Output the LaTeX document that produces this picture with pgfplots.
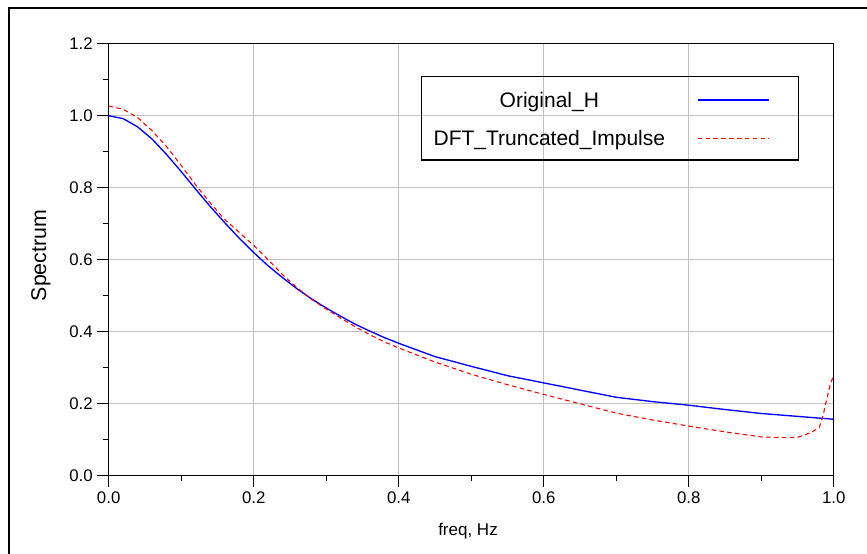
\documentclass[border=0pt]{standalone}
\usepackage{fontspec}
\setmainfont{Liberation Sans}
\usepackage{pgfplots}
\pgfplotsset{compat=1.18}
\definecolor{gridgray}{RGB}{192,192,192}
\definecolor{hblue}{RGB}{0,0,255}
\definecolor{dred}{RGB}{255,0,0}
\begin{document}
\begin{tikzpicture}
\path[use as bounding box] (-81.5pt,-58pt) rectangle (568.7pt,356.8pt);
\clip (-81.5pt,-58pt) rectangle (568.7pt,356.8pt);
\draw[line width=1.5pt] (-74.8pt,-80pt) rectangle (590pt,350.8pt);
\begin{axis}[
  at={(0pt,0pt)}, anchor=south west,
  scale only axis, width=543.75pt, height=324pt,
  xmin=0, xmax=1, ymin=0, ymax=1.2,
  xtick={0,0.2,0.4,0.6,0.8,1.0},
  ytick={0,0.2,0.4,0.6,0.8,1.0,1.2},
  minor tick num=1,
  xtick pos=bottom, ytick pos=left,
  tick align=outside,
  major tick length=8.5pt, minor tick length=4pt,
  every tick/.style={black, line width=0.9pt},
  axis line style={black, line width=1pt},
  grid=major,
  major grid style={gridgray, line width=0.9pt},
  /pgf/number format/assume math mode=true,
  xticklabel style={/pgf/number format/.cd, fixed, fixed zerofill, precision=1},
  yticklabel style={/pgf/number format/.cd, fixed, fixed zerofill, precision=1},
  tick label style={font=\fontsize{12.6}{14}\selectfont},
  every axis x label/.style={at={(axis description cs:0.4956,0)}, anchor=base, yshift=-44.5pt, font=\fontsize{12.75}{15}\selectfont},
  every axis y label/.style={at={(axis description cs:-0.0934,0.5097)}, rotate=90, anchor=center, font=\fontsize{16}{18}\selectfont},
  xlabel={freq, Hz},
  ylabel={Spectrum},
  legend plot pos=right,
  legend cell align=center,
  legend style={at={(rel axis cs:0.4303,0.9259)}, anchor=north west, draw=black, line width=1pt, fill=none,
    inner xsep=9.2pt, inner ysep=4.2pt, row sep=3.8pt, column sep=24pt,
    font=\fontsize{15.75}{18}\selectfont,
    nodes={inner sep=0pt, text height=18.9pt, text depth=6.3pt}},
]
\addplot[color=hblue, line width=1pt,
  legend image code/.code={\fill[hblue, draw=none] (0pt,-1.3pt) rectangle (53.25pt,-0.1pt); \pgfpathmoveto{\pgfqpoint{66.3pt}{0pt}}\pgfusepath{discard}}] coordinates {
(0,1.000) (0.02,0.992) (0.04,0.969) (0.06,0.935) (0.08,0.892) (0.10,0.845)
(0.12,0.796) (0.14,0.748) (0.16,0.703) (0.18,0.660) (0.20,0.620) (0.22,0.583)
(0.24,0.550) (0.26,0.519) (0.28,0.491) (0.30,0.466) (0.32,0.443) (0.34,0.421)
(0.36,0.402) (0.38,0.384) (0.40,0.368) (0.45,0.331) (0.50,0.304) (0.55,0.278)
(0.60,0.258) (0.65,0.238) (0.70,0.218) (0.75,0.206) (0.80,0.196) (0.85,0.184)
(0.90,0.173) (0.95,0.165) (1.00,0.157)
};
\addlegendentry{Original\_H}
\addplot[color=dred, line width=0.8pt, dash pattern=on 3.4pt off 2.5pt,
  legend image code/.code={\draw[draw=dred, line width=0.8pt, dash pattern=on 3.4pt off 2.5pt] (0pt,-0.7pt) -- (53.25pt,-0.7pt); \pgfpathmoveto{\pgfqpoint{66.3pt}{0pt}}\pgfusepath{discard}}] coordinates {
(0,1.027) (0.02,1.018) (0.04,0.995) (0.06,0.958) (0.08,0.914) (0.10,0.862)
(0.12,0.808) (0.14,0.758) (0.16,0.712) (0.18,0.676) (0.20,0.640) (0.22,0.600)
(0.24,0.558) (0.26,0.522) (0.28,0.490) (0.30,0.463) (0.32,0.438) (0.34,0.414)
(0.36,0.392) (0.38,0.372) (0.40,0.355) (0.45,0.316) (0.50,0.282) (0.55,0.253)
(0.60,0.226) (0.65,0.200) (0.70,0.174) (0.75,0.155) (0.80,0.138) (0.85,0.122)
(0.90,0.108) (0.93,0.106) (0.95,0.107) (0.96,0.113) (0.97,0.122) (0.98,0.134)
(0.985,0.165) (0.99,0.210) (0.995,0.252) (1.00,0.280)
};
\addlegendentry{DFT\_Truncated\_Impulse}
\end{axis}
\end{tikzpicture}
\end{document}
